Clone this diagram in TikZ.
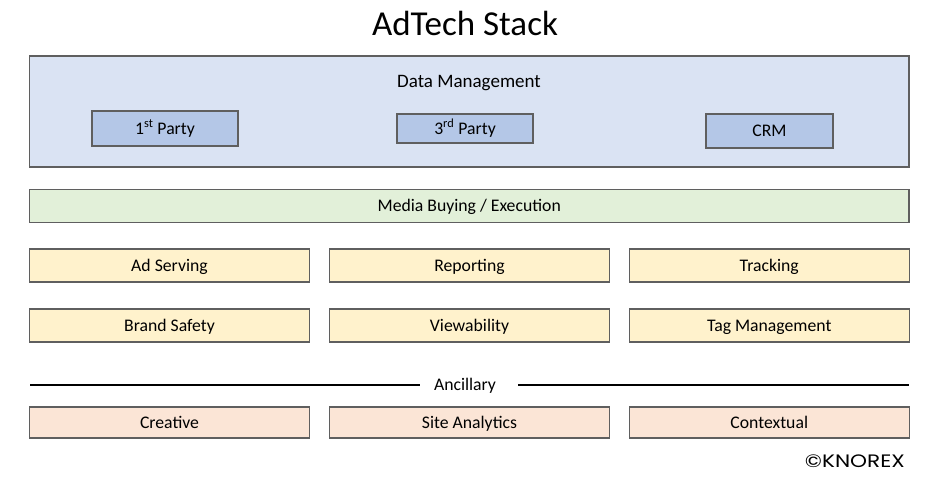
\documentclass[tikz,border=0pt]{standalone}
\usepackage{fontspec}
\setmainfont{Carlito}
\newfontfamily\logofont{Poppins}
\usepackage{xcolor}
\definecolor{dmblue}{HTML}{DAE3F3}
\definecolor{partyblue}{HTML}{B4C7E7}
\definecolor{buygreen}{HTML}{E2F0D9}
\definecolor{coreyellow}{HTML}{FFF2CC}
\definecolor{ancpeach}{HTML}{FBE5D6}
\definecolor{edgegray}{HTML}{5F5F5F}
\tikzset{
  label text/.style={font=\fontsize{17.7}{20}\selectfont, text height=15.4pt, text depth=4pt},
  tile/.style={draw=edgegray, line width=1.2pt, inner sep=0pt, label text, text=black},
  coltile/.style={tile, fill=coreyellow, minimum width=280, minimum height=33},
  anctile/.style={tile, fill=ancpeach, minimum width=280, minimum height=31},
}
\begin{document}
\begin{tikzpicture}[x=1pt,y=-1pt]
    \useasboundingbox[fill=white] (0,0) rectangle (937,483);
    \node[font=\fontsize{35}{40}\selectfont, text height=26.5pt, text depth=4pt, inner sep=0pt] at (465,24) (title) {AdTech Stack};
    % data management block
    \node[tile, fill=dmblue, minimum width=879.5, minimum height=111] at (469.25,111.5) (dm) {};
    \node[font=\fontsize{19}{22}\selectfont, text height=16.2pt, text depth=4pt, inner sep=0pt] at (469,81) (dmlabel) {Data Management};
    \node[tile, fill=partyblue, minimum width=146, minimum height=35] at (165,128.5) (first) {1\textsuperscript{st} Party};
    \node[tile, fill=partyblue, minimum width=136, minimum height=29] at (465,128.5) (third) {3\textsuperscript{rd} Party};
    \node[tile, fill=partyblue, minimum width=127, minimum height=34] at (769.5,131) (crm) {CRM};
    \node[tile, fill=buygreen, minimum width=879.5, minimum height=33] at (469.25,206) (media) {Media Buying / Execution};
    % core tools
    \node[coltile] at (169.5,265.5) (adserv) {Ad Serving};
    \node[coltile] at (469.5,265.5) (report) {Reporting};
    \node[coltile] at (769.25,265.5) (track) {Tracking};
    \node[coltile] at (169.5,325.5) (brand) {Brand Safety};
    \node[coltile] at (469.5,325.5) (view) {Viewability};
    \node[coltile] at (769.25,325.5) (tagman) {Tag Management};
    % ancillary
    \coordinate (ancL) at (30,385);
    \coordinate (ancR) at (909,385);
    \node[label text, inner xsep=14pt, inner ysep=0pt] at (465,385) (anc) {Ancillary};
    \draw[line width=1.8pt] (ancL) -- (anc.west);
    \draw[line width=1.8pt] ([xshift=8pt]anc.east) -- (ancR);
    \node[anctile] at (169.5,422.5) (creative) {Creative};
    \node[anctile] at (469.5,422.5) (site) {Site Analytics};
    \node[anctile] at (769.25,422.5) (context) {Contextual};
    \node[font=\logofont\fontsize{18}{20}\selectfont, anchor=east, inner sep=0pt] at (905,461) (logo) {\scalebox{1.2}[1]{©KNOREX}};
\end{tikzpicture}
\end{document}
